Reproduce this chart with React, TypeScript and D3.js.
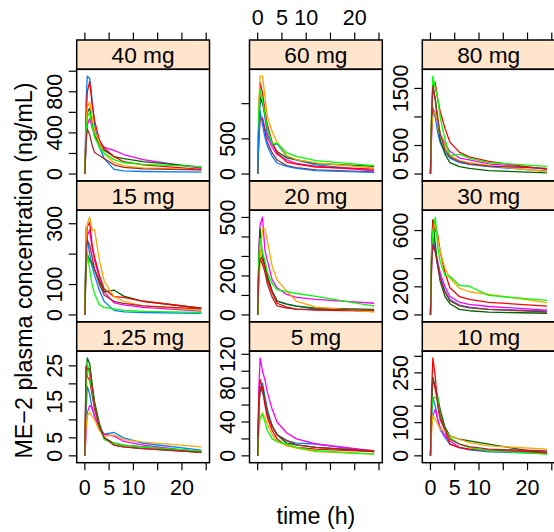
import React from "react";
import * as d3 from "d3";

// Sampling times (h) shared by every subject
const TIMES = [0, 0.25, 0.5, 1, 1.5, 2, 3, 4, 6, 8, 12, 24];

// Lattice superpose colours, one per subject within a dose group
const SUBJECT_COLORS = ["#0080ff", "#ff00ff", "#006400", "#ff0000", "#ffa500", "#00ff00", "#a52a2a"];

// Concentrations (ng/mL) per subject, one row per subject, columns follow TIMES
const conc_1_25 = [
  [0, 12, 19.3, 17.2, 13, 11, 7.5, 6, 6.5, 5, 3.5, 1.6],
  [0, 6, 12, 14, 13.5, 11, 8, 6, 5.5, 4, 3, 1],
  [0, 20, 27.2, 25.6, 20, 15, 9, 5, 3.5, 3, 2.5, 1.2],
  [0, 24.7, 22, 21, 17, 13, 8, 5, 3, 2.5, 2, 1],
  [0, 8, 11.2, 12.1, 11, 10, 7, 5.5, 5.8, 4.5, 3.8, 2.5],
  [0, 18, 26, 22, 18, 14, 8, 4.5, 3.5, 3, 2.5, 1.3],
  [0, 25, 24, 24.2, 19, 14, 8, 5, 3, 2.5, 2, 1],
];
const conc_5 = [
  [0, 60, 80, 86, 70, 55, 35, 25, 18, 15, 14, 5],
  [0, 80, 115.7, 100, 90, 75, 55, 40, 27, 20, 14, 6],
  [0, 60, 78, 82, 65, 50, 35, 25, 15, 13, 10, 5],
  [0, 70, 90, 80, 60, 45, 30, 20, 12, 10, 8, 5],
  [0, 30, 45, 51, 45, 38, 25, 17, 12, 9, 5, 2],
  [0, 35, 45, 49, 40, 30, 20, 17, 14, 10, 6, 2],
  [0, 55, 81, 75, 65, 50, 35, 25, 18, 13, 10, 6],
];
const conc_10 = [
  [0, 120, 177, 150, 110, 80, 55, 35, 25, 18, 12, 7],
  [0, 90, 120, 141, 110, 85, 60, 45, 25, 20, 17, 12],
  [0, 150, 237, 207, 177, 140, 86, 60, 50, 45, 35, 7],
  [0, 200, 295, 237, 150, 110, 76, 35, 25, 20, 15, 10],
  [0, 80, 121, 110, 95, 80, 76, 60, 50, 40, 30, 20],
  [0, 130, 177, 175, 177, 120, 81, 55, 35, 25, 15, 5],
  [0, 180, 232, 200, 160, 120, 80, 50, 35, 28, 20, 15],
];
const conc_15 = [
  [0, 289, 250, 200, 160, 130, 80, 44, 15, 10, 8, 5],
  [0, 200, 260, 280, 220, 180, 120, 75, 40, 33, 25, 13],
  [0, 150, 200, 180, 170, 150, 110, 76, 82, 62, 45, 22],
  [0, 220, 290, 305, 230, 190, 130, 85, 60, 58, 45, 22],
  [0, 250, 300, 322, 280, 280, 180, 110, 60, 45, 30, 15],
  [0, 234, 200, 150, 100, 70, 33, 25, 20, 15, 12, 8],
  [0, 200, 245, 230, 190, 150, 100, 65, 45, 38, 30, 20],
];
const conc_20 = [
  [0, 250, 300, 290, 250, 200, 120, 71, 55, 45, 30, 20],
  [0, 350, 461, 502, 330, 280, 180, 139, 105, 90, 80, 60],
  [0, 300, 440, 300, 260, 200, 120, 71, 55, 45, 35, 29],
  [0, 250, 303, 283, 240, 180, 114, 60, 40, 30, 25, 20],
  [0, 150, 280, 444, 440, 380, 250, 180, 122, 70, 40, 15],
  [0, 280, 393, 320, 280, 220, 160, 130, 120, 110, 95, 45],
  [0, 220, 290, 260, 220, 160, 90, 46, 35, 30, 28, 25],
];
const conc_30 = [
  [0, 400, 557, 450, 350, 280, 170, 110, 70, 55, 40, 28],
  [0, 350, 486, 450, 380, 300, 200, 130, 90, 75, 60, 35],
  [0, 500, 675, 500, 350, 240, 130, 80, 40, 30, 20, 12],
  [0, 450, 675, 600, 569, 450, 300, 193, 130, 110, 90, 63],
  [0, 400, 600, 651, 545, 450, 330, 263, 190, 165, 146, 87],
  [0, 450, 600, 696, 480, 380, 280, 275, 210, 204, 139, 103],
  [0, 380, 505, 450, 350, 260, 160, 100, 65, 50, 40, 21],
];
const conc_40 = [
  [0, 700, 952, 930, 720, 480, 260, 150, 45, 30, 25, 18],
  [0, 300, 480, 540, 450, 380, 300, 260, 230, 190, 140, 55],
  [0, 400, 600, 640, 500, 380, 290, 230, 170, 150, 120, 68],
  [0, 500, 800, 900, 680, 520, 330, 250, 170, 120, 90, 45],
  [0, 450, 650, 700, 560, 420, 300, 200, 110, 80, 60, 40],
  [0, 380, 560, 600, 470, 360, 260, 200, 140, 110, 95, 72],
  [0, 300, 440, 380, 280, 210, 180, 150, 90, 65, 50, 40],
];
const conc_60 = [
  [0, 700, 1000, 1070, 800, 560, 420, 430, 250, 200, 130, 50],
  [0, 500, 780, 800, 650, 520, 380, 280, 200, 150, 110, 50],
  [0, 800, 1100, 1000, 850, 650, 430, 320, 230, 200, 150, 110],
  [0, 900, 1300, 1150, 900, 700, 450, 300, 170, 140, 100, 71],
  [0, 1000, 1391, 1391, 1100, 820, 600, 450, 260, 205, 160, 86],
  [0, 900, 1200, 1050, 850, 650, 430, 440, 300, 252, 190, 119],
  [0, 500, 820, 780, 600, 450, 300, 200, 120, 90, 60, 30],
  [0, 600, 900, 700, 520, 400, 250, 157, 110, 80, 50, 24],
];
const conc_80 = [
  [0, 800, 1115, 1000, 720, 550, 380, 280, 200, 170, 130, 50],
  [0, 700, 1160, 1050, 900, 700, 540, 400, 280, 250, 180, 90],
  [0, 1000, 1573, 1300, 900, 600, 350, 200, 130, 100, 60, 20],
  [0, 1000, 1500, 1600, 1300, 1100, 800, 560, 380, 300, 220, 80],
  [0, 800, 1015, 1100, 900, 700, 500, 330, 230, 200, 150, 40],
  [0, 1200, 1715, 1500, 1330, 1000, 600, 320, 350, 280, 200, 135],
  [0, 1100, 1540, 1300, 1000, 700, 430, 300, 220, 180, 140, 100],
];

// Strip labels, in lattice panel order (bottom-left first)
const DOSE_LABELS = ["1.25 mg", "5 mg", "10 mg", "15 mg", "20 mg", "30 mg", "40 mg", "60 mg", "80 mg"];
const DOSE_DATA = [conc_1_25, conc_5, conc_10, conc_15, conc_20, conc_30, conc_40, conc_60, conc_80];

// Y tick positions and the tick labels that are printed, per panel
const Y_TICKS = [
  [0, 5, 10, 15, 20, 25],
  [0, 20, 40, 60, 80, 100, 120],
  [0, 50, 100, 150, 200, 250, 300],
  [0, 100, 200, 300],
  [0, 100, 200, 300, 400, 500],
  [0, 200, 400, 600],
  [0, 200, 400, 600, 800, 1000],
  [0, 500, 1000],
  [0, 500, 1000, 1500],
];
const Y_LABELS = [
  [0, 5, 15, 25],
  [0, 40, 80, 120],
  [0, 100, 250],
  [0, 100, 300],
  [0, 200, 500],
  [0, 200, 600],
  [0, 400, 800],
  [0, 500],
  [0, 500, 1500],
];

// X axis ticks and printed labels
const X_TICKS = [0, 5, 10, 15, 20, 25];
const X_LABELS = [0, 5, 10, 20];

const X_TITLE = "time (h)";
const Y_TITLE = "ME\u22122 plasma concentration (ng/mL)";

// Layout
const W = 554;
const H = 532;
const LEFT = 76.7;
const PANEL_W = 132.8;
const COL_GAP = 40;
const TOP = 40;
const ROW_H = 140.9;
const STRIP_H = 29.3;
const PAD = 0.07;
const TICK_LEN = 7.5;
const FONT = "'Liberation Sans', Arial, Helvetica, sans-serif";
const TICK_FS = 21.5;
const LAB_FS = 23.3;

function padded([lo, hi]: [number, number]): [number, number] {
  const r = hi - lo;
  return [lo - PAD * r, hi + PAD * r];
}

export default function App() {
  const xDomain = padded(d3.extent(TIMES) as [number, number]);
  const panels = DOSE_LABELS.map((label, i) => {
    const col = i % 3;
    const row = 2 - Math.floor(i / 3);
    const x0 = LEFT + col * (PANEL_W + COL_GAP);
    const stripTop = TOP + row * ROW_H;
    const pTop = stripTop + STRIP_H;
    const pBottom = TOP + (row + 1) * ROW_H;
    const data = DOSE_DATA[i];
    const ymax = d3.max(data.flat()) as number;
    const ymin = d3.min(data.flat()) as number;
    const x = d3.scaleLinear().domain(xDomain).range([x0, x0 + PANEL_W]);
    const y = d3.scaleLinear().domain(padded([ymin, ymax])).range([pBottom, pTop]);
    return { label, i, col, row, x0, stripTop, pTop, pBottom, data, x, y };
  });

  const layoutBottom = TOP + 3 * ROW_H;
  const layoutCenterX = LEFT + (3 * PANEL_W + 2 * COL_GAP) / 2;

  return (
    <svg
      width={W}
      height={H}
      viewBox={`0 0 ${W} ${H}`}
      style={{ position: "absolute", left: 0, top: 0, background: "#fff" }}
      fontFamily={FONT}
    >
      <rect x={0} y={0} width={W} height={H} fill="#fff" />
      {panels.map((p) => {
        const line = d3
          .line<number>()
          .x((_, k) => p.x(TIMES[k]))
          .y((v) => p.y(v));
        const yTicks = Y_TICKS[p.i].filter((t) => {
          const py = p.y(t);
          return py >= p.pTop - 0.5 && py <= p.pBottom + 0.5;
        });
        return (
          <g key={p.label}>
            {/* strip */}
            <rect
              x={p.x0}
              y={p.stripTop}
              width={PANEL_W}
              height={STRIP_H}
              fill="#ffe5cc"
              stroke="#000"
              strokeWidth={1.5}
            />
            <text
              x={p.x0 + PANEL_W / 2}
              y={p.stripTop + 23}
              textAnchor="middle"
              fontSize={LAB_FS - 0.6}
              fill="#000"
            >
              {p.label}
            </text>
            {/* subject profiles */}
            {p.data.map((series, s) => (
              <path
                key={s}
                d={line(series) || ""}
                fill="none"
                stroke={SUBJECT_COLORS[s % SUBJECT_COLORS.length]}
                strokeWidth={1.3}
                strokeLinejoin="round"
              />
            ))}
            {/* panel frame */}
            <rect
              x={p.x0}
              y={p.pTop}
              width={PANEL_W}
              height={p.pBottom - p.pTop}
              fill="none"
              stroke="#000"
              strokeWidth={1.5}
            />
            {/* y axis */}
            {yTicks.map((t) => (
              <line
                key={`yt${t}`}
                x1={p.x0 - 8}
                x2={p.x0}
                y1={p.y(t)}
                y2={p.y(t)}
                stroke="#000"
                strokeWidth={1.2}
              />
            ))}
            {Y_LABELS[p.i].map((t) => (
              <text
                key={`yl${t}`}
                transform={`translate(${p.x0 - 14.5},${p.y(t)}) rotate(-90)`}
                textAnchor="middle"
                fontSize={TICK_FS}
                fill="#000"
              >
                {t}
              </text>
            ))}
            {/* top ticks on the first row */}
            {p.row === 0 &&
              X_TICKS.map((t) => (
                <line
                  key={`xt${t}`}
                  x1={p.x(t)}
                  x2={p.x(t)}
                  y1={p.stripTop}
                  y2={p.stripTop - TICK_LEN}
                  stroke="#000"
                  strokeWidth={1.2}
                />
              ))}
            {p.row === 0 &&
              p.col === 1 &&
              X_LABELS.map((t) => (
                <text key={`xl${t}`} x={p.x(t)} y={25} textAnchor="middle" fontSize={TICK_FS} fill="#000">
                  {t}
                </text>
              ))}
            {/* bottom ticks on the last row */}
            {p.row === 2 &&
              X_TICKS.map((t) => (
                <line
                  key={`xb${t}`}
                  x1={p.x(t)}
                  x2={p.x(t)}
                  y1={p.pBottom}
                  y2={p.pBottom + TICK_LEN}
                  stroke="#000"
                  strokeWidth={1.2}
                />
              ))}
            {p.row === 2 &&
              p.col !== 1 &&
              X_LABELS.map((t) => (
                <text
                  key={`xbl${t}`}
                  x={p.x(t)}
                  y={layoutBottom + 32.5}
                  textAnchor="middle"
                  fontSize={TICK_FS}
                  fill="#000"
                >
                  {t}
                </text>
              ))}
          </g>
        );
      })}
      <text x={layoutCenterX} y={524} textAnchor="middle" fontSize={LAB_FS} fill="#000">
        {X_TITLE}
      </text>
      <text
        transform={`translate(31.5,270.5) rotate(-90)`}
        textAnchor="middle"
        fontSize={LAB_FS}
        fill="#000"
      >
        {Y_TITLE}
      </text>
    </svg>
  );
}
